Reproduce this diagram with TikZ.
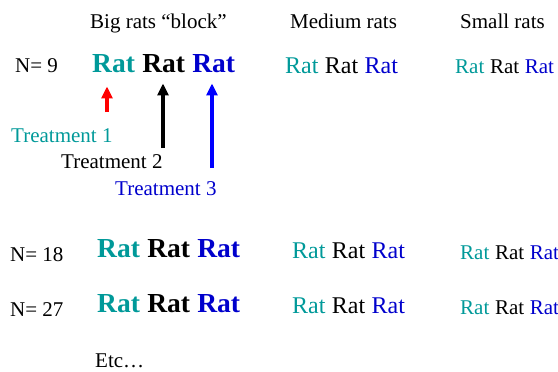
\documentclass[tikz,border=0pt]{standalone}
\usepackage{fontspec}
\setmainfont{Liberation Serif}
\usetikzlibrary{positioning, arrows.meta}
\definecolor{ratteal}{HTML}{009999}
\definecolor{ratblue}{HTML}{0000CC}
\definecolor{arrblue}{HTML}{0000FF}
\tikzset{
  txt/.style={inner sep=0pt, anchor=base west, font=\fontsize{21}{25}\selectfont},
  bigrat/.style={inner sep=0pt, anchor=base west, font=\fontsize{27.5}{32}\selectfont\bfseries},
  medrat/.style={inner sep=0pt, anchor=base west, font=\fontsize{24}{28}\selectfont},
  smlrat/.style={inner sep=0pt, anchor=base west, font=\fontsize{21}{25}\selectfont},
  arr/.style={-{Triangle[length=12pt, width=11pt]}, line width=3.2pt},
}

\begin{document}
\begin{tikzpicture}[x=1pt, y=-1pt]
  \useasboundingbox (0,0) rectangle (558,372);
  % column heads
  \node[txt] (hbig) at (90,28) {Big rats “block”};
  \node[txt] (hmed) at (290,28) {Medium rats};
  \node[txt] (hsml) at (460,28) {Small rats};
  % row N= 9
  \node[txt] (n9) at (15,72) {N= 9};
  \node[bigrat, text=ratteal] (b1) at (92,72) {Rat};
  \node[bigrat, base right=6.9pt of b1] (b2) {Rat};
  \node[bigrat, text=ratblue, base right=6.9pt of b2] (b3) {Rat};
  \node[medrat, text=ratteal] (m1) at (285,73) {Rat};
  \node[medrat, base right=6pt of m1] (m2) {Rat};
  \node[medrat, text=ratblue, base right=6pt of m2] (m3) {Rat};
  \node[smlrat, text=ratteal] (s1) at (455,74) {Rat};
  \node[smlrat, base right=5.25pt of s1] (s2) {Rat};
  \node[smlrat, text=ratblue, base right=5.25pt of s2] (s3) {Rat};
  % treatments
  \node[txt, text=ratteal] (tr1) at (11,142) {Treatment 1};
  \node[txt] (tr2) at (61,168) {Treatment 2};
  \node[txt, text=ratblue] (tr3) at (115,195) {Treatment 3};
  \coordinate (tail1) at (107,112);
  \coordinate (tail2) at (163,148);
  \coordinate (tail3) at (212,168);
  \draw[arr, red, line width=3.8pt, shorten >=14pt] (tail1) -- (tail1 |- b1.south);
  \draw[arr, shorten >=11pt] (tail2) -- (tail2 |- b2.south);
  \draw[arr, arrblue, shorten >=11pt] (tail3) -- (tail3 |- b3.south);
  % row N= 18
  \node[txt] (n18) at (10,261) {N= 18};
  \node[bigrat, text=ratteal] (bb1) at (97,257) {Rat};
  \node[bigrat, base right=6.9pt of bb1] (bb2) {Rat};
  \node[bigrat, text=ratblue, base right=6.9pt of bb2] (bb3) {Rat};
  \node[medrat, text=ratteal] (mm1) at (292,258) {Rat};
  \node[medrat, base right=6pt of mm1] (mm2) {Rat};
  \node[medrat, text=ratblue, base right=6pt of mm2] (mm3) {Rat};
  \node[smlrat, text=ratteal] (ss1) at (460,259) {Rat};
  \node[smlrat, base right=5.25pt of ss1] (ss2) {Rat};
  \node[smlrat, text=ratblue, base right=5.25pt of ss2] (ss3) {Rat};
  % row N= 27
  \node[txt] (n27) at (10,316) {N= 27};
  \node[bigrat, text=ratteal] (bbb1) at (97,312) {Rat};
  \node[bigrat, base right=6.9pt of bbb1] (bbb2) {Rat};
  \node[bigrat, text=ratblue, base right=6.9pt of bbb2] (bbb3) {Rat};
  \node[medrat, text=ratteal] (mmm1) at (292,313) {Rat};
  \node[medrat, base right=6pt of mmm1] (mmm2) {Rat};
  \node[medrat, text=ratblue, base right=6pt of mmm2] (mmm3) {Rat};
  \node[smlrat, text=ratteal] (sss1) at (460,314) {Rat};
  \node[smlrat, base right=5.25pt of sss1] (sss2) {Rat};
  \node[smlrat, text=ratblue, base right=5.25pt of sss2] (sss3) {Rat};
  \node[txt] (etc) at (95,367) {Etc…};
\end{tikzpicture}
\end{document}
